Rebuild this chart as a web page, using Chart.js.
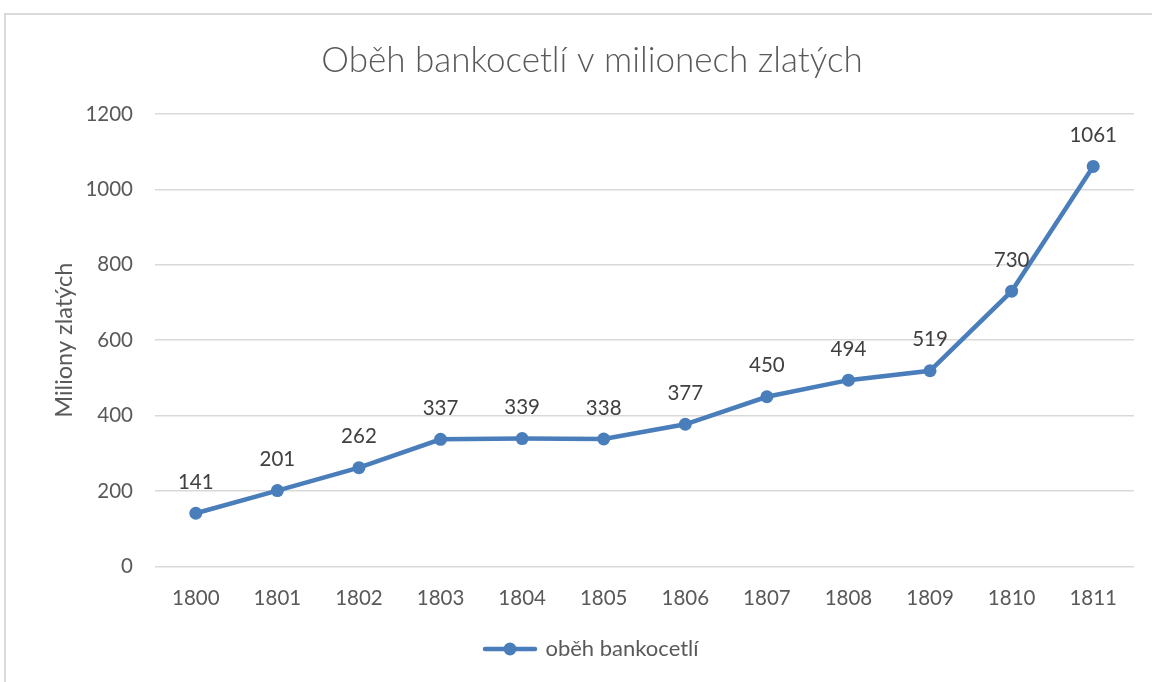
<!DOCTYPE html>
<html>
<head>
<meta charset="utf-8">
<script src="https://cdn.jsdelivr.net/npm/chart.js@4"></script>
<style>
  html, body { margin: 0; padding: 0; background: #fff; }
  #wrap { width: 1152px; height: 682px; position: relative; }
</style>
</head>
<body>
<div id="wrap"><canvas id="chart" width="1152" height="682"></canvas></div>
<script>
const years = ['1800', '1801', '1802', '1803', '1804', '1805', '1806', '1807', '1808', '1809', '1810', '1811'];
const circulation = [141, 201, 262, 337, 339, 338, 377, 450, 494, 519, 730, 1061];
const yTicks = [0, 200, 400, 600, 800, 1000, 1200];

const lineColor = '#4a7ebb';
const textColor = '#595959';
const fontFamily = 'Lato, "Open Sans", sans-serif';

// legend symbol: short line with a dot in the middle
const legendIcon = document.createElement('canvas');
legendIcon.width = 56;
legendIcon.height = 16;
(function () {
  const c = legendIcon.getContext('2d');
  c.strokeStyle = lineColor;
  c.lineWidth = 4.5;
  c.lineCap = 'round';
  c.beginPath();
  c.moveTo(3, 8);
  c.lineTo(53, 8);
  c.stroke();
  c.fillStyle = lineColor;
  c.beginPath();
  c.arc(28, 8, 6.5, 0, Math.PI * 2);
  c.fill();
})();

const framePlugin = {
  id: 'frame',
  beforeDraw(chart) {
    const ctx = chart.ctx;
    ctx.save();
    ctx.strokeStyle = '#d9d9d9';
    ctx.lineWidth = 2;
    ctx.beginPath();
    ctx.moveTo(5, 690);
    ctx.lineTo(5, 14);
    ctx.lineTo(1160, 14);
    ctx.stroke();
    ctx.restore();
  }
};

const valueLabels = {
  id: 'valueLabels',
  afterDatasetsDraw(chart) {
    const ctx = chart.ctx;
    const meta = chart.getDatasetMeta(0);
    ctx.save();
    ctx.font = '20.5px ' + fontFamily;
    ctx.fillStyle = '#404040';
    ctx.textAlign = 'center';
    ctx.textBaseline = 'middle';
    meta.data.forEach((pt, i) => {
      ctx.fillText(circulation[i], pt.x, pt.y - 31);
    });
    ctx.restore();
  }
};

new Chart(document.getElementById('chart'), {
  type: 'line',
  data: {
    labels: years,
    datasets: [{
      label: 'oběh bankocetlí',
      data: circulation,
      borderColor: lineColor,
      backgroundColor: lineColor,
      borderWidth: 4.5,
      pointRadius: 6.5,
      pointHoverRadius: 6.5,
      pointBackgroundColor: lineColor,
      pointBorderWidth: 0,
      tension: 0
    }]
  },
  options: {
    responsive: false,
    animation: false,
    layout: { padding: { left: 50, right: 18, top: 0, bottom: 12 } },
    plugins: {
      title: {
        display: true,
        text: 'Oběh bankocetlí v milionech zlatých',
        color: textColor,
        font: { family: fontFamily, size: 35, weight: '300' },
        padding: { top: 40, bottom: 32 }
      },
      legend: {
        position: 'bottom',
        labels: {
          usePointStyle: true,
          pointStyle: legendIcon,
          pointStyleWidth: 49,
          color: textColor,
          font: { family: fontFamily, size: 22 },
          padding: 4
        }
      },
      tooltip: { enabled: false }
    },
    scales: {
      x: {
        offset: true,
        afterFit(axis) {
          axis.height += 3;
        },
        grid: { display: false, drawTicks: false },
        border: { display: false },
        ticks: {
          color: textColor,
          font: { family: fontFamily, size: 20.5 },
          padding: 20,
          maxRotation: 0
        }
      },
      y: {
        min: 0,
        max: 1200,
        afterBuildTicks(axis) {
          axis.ticks = yTicks.map(v => ({ value: v }));
        },
        afterFit(axis) {
          axis.width = 105;
        },
        grid: { color: '#d9d9d9', lineWidth: 1.5, drawTicks: false },
        border: { display: false },
        ticks: {
          color: textColor,
          font: { family: fontFamily, size: 20.5 },
          padding: 22,
          callback: (v) => String(v)
        },
        title: {
          display: true,
          text: 'Miliony zlatých',
          color: textColor,
          font: { family: fontFamily, size: 23.5 },
          padding: { top: 0, bottom: 0 }
        }
      }
    }
  },
  plugins: [framePlugin, valueLabels]
});
</script>
</body>
</html>
